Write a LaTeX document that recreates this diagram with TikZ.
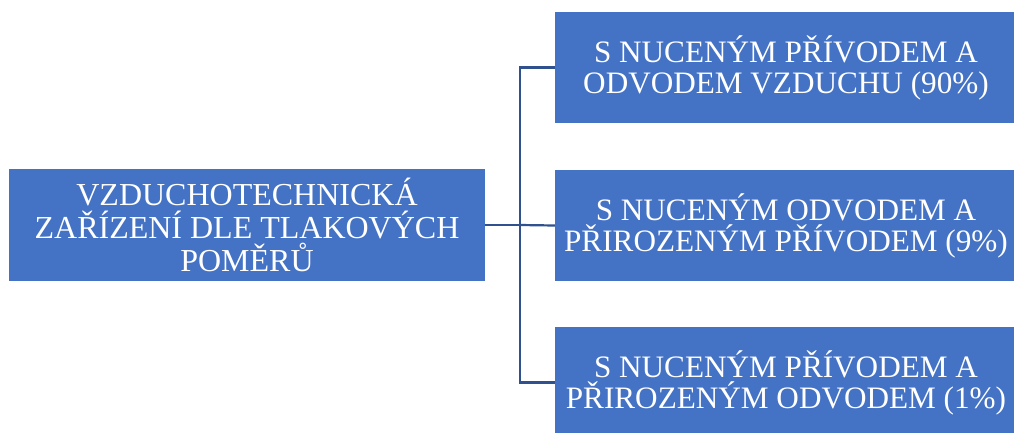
\documentclass[tikz,border=0pt]{standalone}
\usepackage{fontspec}
\setmainfont{Liberation Serif}
\definecolor{boxblue}{HTML}{4472C4}
\definecolor{linkblue}{HTML}{2F528F}
\begin{document}
\begin{tikzpicture}[x=1pt,y=-1pt,
  box/.style={draw=none,fill=boxblue,text=white,align=center,inner sep=0pt,
    font=\fontsize{31.2}{31}\selectfont},
  bigbox/.style={box,font=\fontsize{32}{33}\selectfont},
  link/.style={draw=linkblue,line width=2.2pt}]
\useasboundingbox (0,0) rectangle (1014,432);
\begin{scope}
\clip (0,0) rectangle (1014,432);
\node[bigbox,minimum width=476pt,minimum height=112pt] (L) at (247,225)
  {VZDUCHOTECHNICKÁ\\ZAŘÍZENÍ DLE TLAKOVÝCH\\POMĚRŮ};
\node[box,minimum width=462pt,minimum height=111pt] (R1) at (786,67.5)
  {S NUCENÝM PŘÍVODEM A\\ODVODEM VZDUCHU (90\%)};
\node[box,minimum width=462pt,minimum height=111pt] (R2) at (786,225.5)
  {S NUCENÝM ODVODEM A\\PŘIROZENÝM PŘÍVODEM (9\%)};
\node[box,minimum width=462pt,minimum height=111pt] (R3) at (786,382.5)
  {S NUCENÝM PŘÍVODEM A\\PŘIROZENÝM ODVODEM (1\%)};
\end{scope}
\coordinate (fork) at (520,225);
\draw[link] (L.east) -- (fork);
\draw[link] (fork) |- (R1.west);
\draw[link] (fork) -- (R2.west);
\draw[link] (fork) |- (R3.west);
\end{tikzpicture}
\end{document}
